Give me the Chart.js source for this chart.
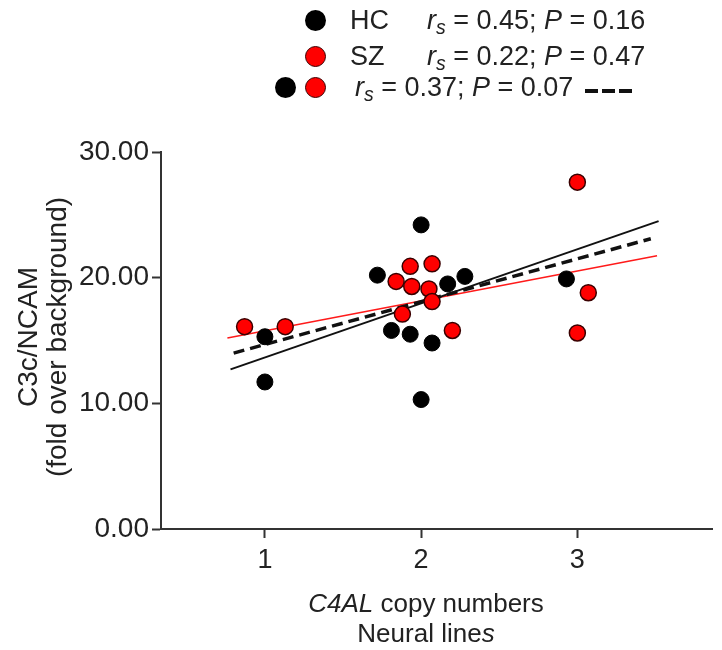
<!DOCTYPE html>
<html>
<head>
<meta charset="utf-8">
<title>C3c/NCAM vs C4AL</title>
<script src="https://cdn.jsdelivr.net/npm/chart.js@4"></script>
<style>
  body { margin: 0; background: #fff; font-family: "Liberation Sans", Arial, sans-serif; color: #222; }
  #wrap { position: relative; width: 722px; height: 650px; }
  .txt { position: absolute; white-space: nowrap; line-height: 1; font-size: 27px; }
  .txt sub { font-size: 0.72em; vertical-align: -0.28em; line-height: 0; }
  .dot { position: absolute; width: 21px; height: 21px; border-radius: 50%; box-sizing: border-box; }
  .negro { background: #000; }
  .rojo { background: #ff0000; border: 1.5px solid #3a0000; }
  .guiones { position: absolute; height: 4px; width: 47px;
    background: repeating-linear-gradient(to right, #111 0 13px, transparent 13px 17px); }
  #xtitulo { position: absolute; left: 226px; top: 588px; width: 400px; text-align: center;
    font-size: 26px; line-height: 30px; }
  #ytitulo { position: absolute; left: -158px; top: 308px; width: 400px; height: 58px; text-align: center;
    font-size: 28px; line-height: 29px; transform: rotate(-90deg); }
</style>
</head>
<body>
<div id="wrap">
  <canvas id="grafico" width="722" height="650"></canvas>

  <!-- Leyenda -->
  <div class="dot negro" style="left:305px; top:10px;"></div>
  <div class="txt" style="left:350px; top:7px;">HC</div>
  <div class="txt" style="left:427px; top:7px;"><i>r</i><sub><i>s</i></sub> = 0.45; <i>P</i> = 0.16</div>

  <div class="dot rojo" style="left:305px; top:46px;"></div>
  <div class="txt" style="left:350px; top:43px;">SZ</div>
  <div class="txt" style="left:427px; top:43px;"><i>r</i><sub><i>s</i></sub> = 0.22; <i>P</i> = 0.47</div>

  <div class="dot negro" style="left:275px; top:77px;"></div>
  <div class="dot rojo" style="left:305px; top:77px;"></div>
  <div class="txt" style="left:355px; top:74px;"><i>r</i><sub><i>s</i></sub> = 0.37; <i>P</i> = 0.07</div>
  <div class="guiones" style="left:585px; top:89px;"></div>

  <!-- Títulos de ejes -->
  <div id="ytitulo">C3c/NCAM<br>(fold over background)</div>
  <div id="xtitulo"><i>C4AL</i> copy numbers<br>Neural line<i>s</i></div>
</div>

<script>
// Datos
const hcX = [1, 1, 2, 1.72, 1.81, 1.93, 2.07, 2.17, 2.28, 2, 2.93];
const hcY = [15.3, 11.7, 24.2, 20.2, 15.8, 15.5, 14.8, 19.5, 20.1, 10.3, 19.9];

const szX = [0.87, 1.13, 1.93, 2.07, 1.84, 1.94, 2.05, 2.07, 1.88, 2.2, 3.0, 3.07, 3.0];
const szY = [16.1, 16.1, 20.9, 21.1, 19.7, 19.3, 19.1, 18.1, 17.1, 15.8, 27.6, 18.8, 15.6];

// Rectas de regresión (extremos)
const hcFitX = [0.78, 3.52];
const hcFitY = [12.7, 24.5];
const szFitX = [0.76, 3.51];
const szFitY = [15.2, 21.75];
const allFitX = [0.80, 3.47];
const allFitY = [14.0, 23.1];

const xTicks = [1, 2, 3];
const yTicks = [0, 10, 20, 30];

// Función para armar los puntos {x, y}
function puntos(xs, ys) {
    return xs.map((x, i) => ({ x: x, y: ys[i] }));
}

const fuente = '"Liberation Sans", Arial, sans-serif';

const ctx = document.getElementById('grafico').getContext('2d');

new Chart(ctx, {
    type: 'scatter',
    data: {
        datasets: [
            {
                label: 'SZ',
                data: puntos(szX, szY),
                backgroundColor: '#ff0000',
                borderColor: '#3a0000',
                borderWidth: 1.5,
                pointRadius: 8,
                order: 0
            },
            {
                label: 'HC',
                data: puntos(hcX, hcY),
                backgroundColor: '#000',
                borderColor: '#000',
                borderWidth: 1,
                pointRadius: 8,
                order: 1
            },
            {
                label: 'HC fit',
                data: puntos(hcFitX, hcFitY),
                showLine: true,
                borderColor: '#111',
                borderWidth: 2,
                pointRadius: 0,
                order: 2
            },
            {
                label: 'SZ fit',
                data: puntos(szFitX, szFitY),
                showLine: true,
                borderColor: '#ff1a1a',
                borderWidth: 1.5,
                pointRadius: 0,
                order: 3
            },
            {
                label: 'Todos fit',
                data: puntos(allFitX, allFitY),
                showLine: true,
                borderColor: '#111',
                borderWidth: 3.5,
                borderDash: [11, 6],
                pointRadius: 0,
                order: 2
            }
        ]
    },
    options: {
        responsive: false,
        animation: false,
        layout: { padding: { top: 152, right: 0, bottom: 0, left: 0 } },
        plugins: {
            legend: { display: false },
            tooltip: { enabled: false }
        },
        scales: {
            x: {
                type: 'linear',
                min: 0.335,
                max: 3.865,
                afterFit: function(scale) { scale.height = 121; },
                afterBuildTicks: function(scale) { scale.ticks = xTicks.map(v => ({ value: v })); },
                grid: { drawOnChartArea: false, drawTicks: true, tickLength: 9, tickColor: '#333', tickWidth: 2 },
                border: { display: true, color: '#333', width: 2 },
                ticks: { color: '#222', padding: 6, font: { size: 27, family: fuente } }
            },
            y: {
                type: 'linear',
                min: 0,
                max: 30,
                afterFit: function(scale) { scale.width = 161; },
                afterBuildTicks: function(scale) { scale.ticks = yTicks.map(v => ({ value: v })); },
                grid: { drawOnChartArea: false, drawTicks: true, tickLength: 9, tickColor: '#333', tickWidth: 2 },
                border: { display: true, color: '#333', width: 2 },
                ticks: {
                    color: '#222',
                    padding: 3,
                    font: { size: 28, family: fuente },
                    callback: function(v) { return v.toFixed(2); }
                }
            }
        }
    }
});
</script>
</body>
</html>
